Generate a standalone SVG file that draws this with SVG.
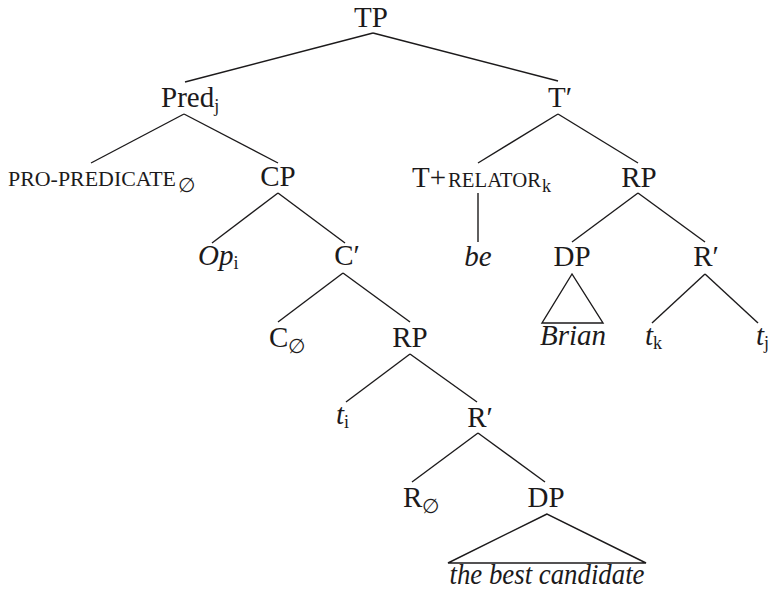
<svg xmlns="http://www.w3.org/2000/svg" width="769" height="590" viewBox="0 0 769 590">
  <style>
    text { font-family: "Liberation Serif", "DejaVu Serif", serif; font-size: 29px; fill: #1c1a1b; }
    .it { font-style: italic; }
    .sc { font-size: 20px; }
    .sub { font-size: 18px; font-style: normal; }
    .null { font-size: 20px; font-family: "DejaVu Serif", "Liberation Serif", serif; }
    .edges line, .edges path { stroke: #1c1a1b; stroke-width: 1.4; fill: none; }
  </style>
  <rect width="769" height="590" fill="#ffffff"/>

  <!-- branches of the tree -->
  <g id="edges" class="edges">
    <line x1="373" y1="33" x2="185" y2="82"/>
    <line x1="373" y1="33" x2="558" y2="81"/>
    <line x1="184" y1="114" x2="91" y2="163"/>
    <line x1="184" y1="114" x2="278" y2="163"/>
    <line x1="558" y1="114" x2="478" y2="163"/>
    <line x1="558" y1="114" x2="638" y2="163"/>
    <line x1="278" y1="193" x2="212" y2="243"/>
    <line x1="278" y1="193" x2="345" y2="243"/>
    <line x1="478" y1="193" x2="478" y2="242"/>
    <line x1="638" y1="193" x2="572" y2="242"/>
    <line x1="638" y1="193" x2="705" y2="242"/>
    <line x1="343" y1="273" x2="278" y2="322"/>
    <line x1="343" y1="273" x2="410" y2="322"/>
    <path d="M572 274 L542 323 L603 323 Z"/>
    <line x1="705" y1="274" x2="652" y2="323"/>
    <line x1="705" y1="274" x2="758" y2="323"/>
    <line x1="410" y1="354" x2="346" y2="402"/>
    <line x1="410" y1="354" x2="477" y2="402"/>
    <line x1="478" y1="433" x2="412" y2="482"/>
    <line x1="478" y1="433" x2="545" y2="482"/>
    <path d="M547 514 L448 563 L646 563 Z"/>
  </g>

  <g id="TP"><text x="371" y="27" text-anchor="middle">TP</text></g>
  <g id="Pred"><text x="161" y="107">Pred<tspan class="sub" dy="5">j</tspan></text></g>
  <g id="Tbar"><text x="560" y="107" text-anchor="middle">T′</text></g>
  <g id="ProPredicate"><text x="8" y="186"><tspan class="sc" textLength="168" lengthAdjust="spacingAndGlyphs">PRO-PREDICATE</tspan><tspan class="null" x="178" dy="6">∅</tspan></text></g>
  <g id="CP"><text x="278" y="186" text-anchor="middle">CP</text></g>
  <g id="TRelator"><text x="412" y="187">T+<tspan class="sc" x="448" textLength="93" lengthAdjust="spacingAndGlyphs">RELATOR</tspan><tspan class="sub" x="542" dy="5">k</tspan></text></g>
  <g id="RP-upper"><text x="639" y="187" text-anchor="middle">RP</text></g>
  <g id="Op"><text x="198" y="265"><tspan class="it">Op</tspan><tspan class="sub" dy="4">i</tspan></text></g>
  <g id="Cbar"><text x="347" y="265" text-anchor="middle">C′</text></g>
  <g id="be"><text x="478" y="266" text-anchor="middle" class="it">be</text></g>
  <g id="DP-upper"><text x="572" y="266" text-anchor="middle">DP</text></g>
  <g id="Rbar-upper"><text x="706" y="266" text-anchor="middle">R′</text></g>
  <g id="C-null"><text x="269" y="347">C<tspan class="null" dy="6">∅</tspan></text></g>
  <g id="RP-lower"><text x="410" y="347" text-anchor="middle">RP</text></g>
  <g id="Brian"><text x="573" y="345" text-anchor="middle" class="it">Brian</text></g>
  <g id="tk"><text x="645" y="345"><tspan class="it">t</tspan><tspan class="sub" dy="4">k</tspan></text></g>
  <g id="tj"><text x="756" y="345"><tspan class="it">t</tspan><tspan class="sub" dy="4">j</tspan></text></g>
  <g id="ti"><text x="336" y="424"><tspan class="it">t</tspan><tspan class="sub" dy="4">i</tspan></text></g>
  <g id="Rbar-lower"><text x="480" y="427" text-anchor="middle">R′</text></g>
  <g id="R-null"><text x="403" y="507">R<tspan class="null" dy="6">∅</tspan></text></g>
  <g id="DP-lower"><text x="546" y="507" text-anchor="middle">DP</text></g>
  <g id="BestCandidate"><text x="547" y="584" text-anchor="middle" class="it" textLength="195" lengthAdjust="spacingAndGlyphs">the best candidate</text></g>
</svg>
